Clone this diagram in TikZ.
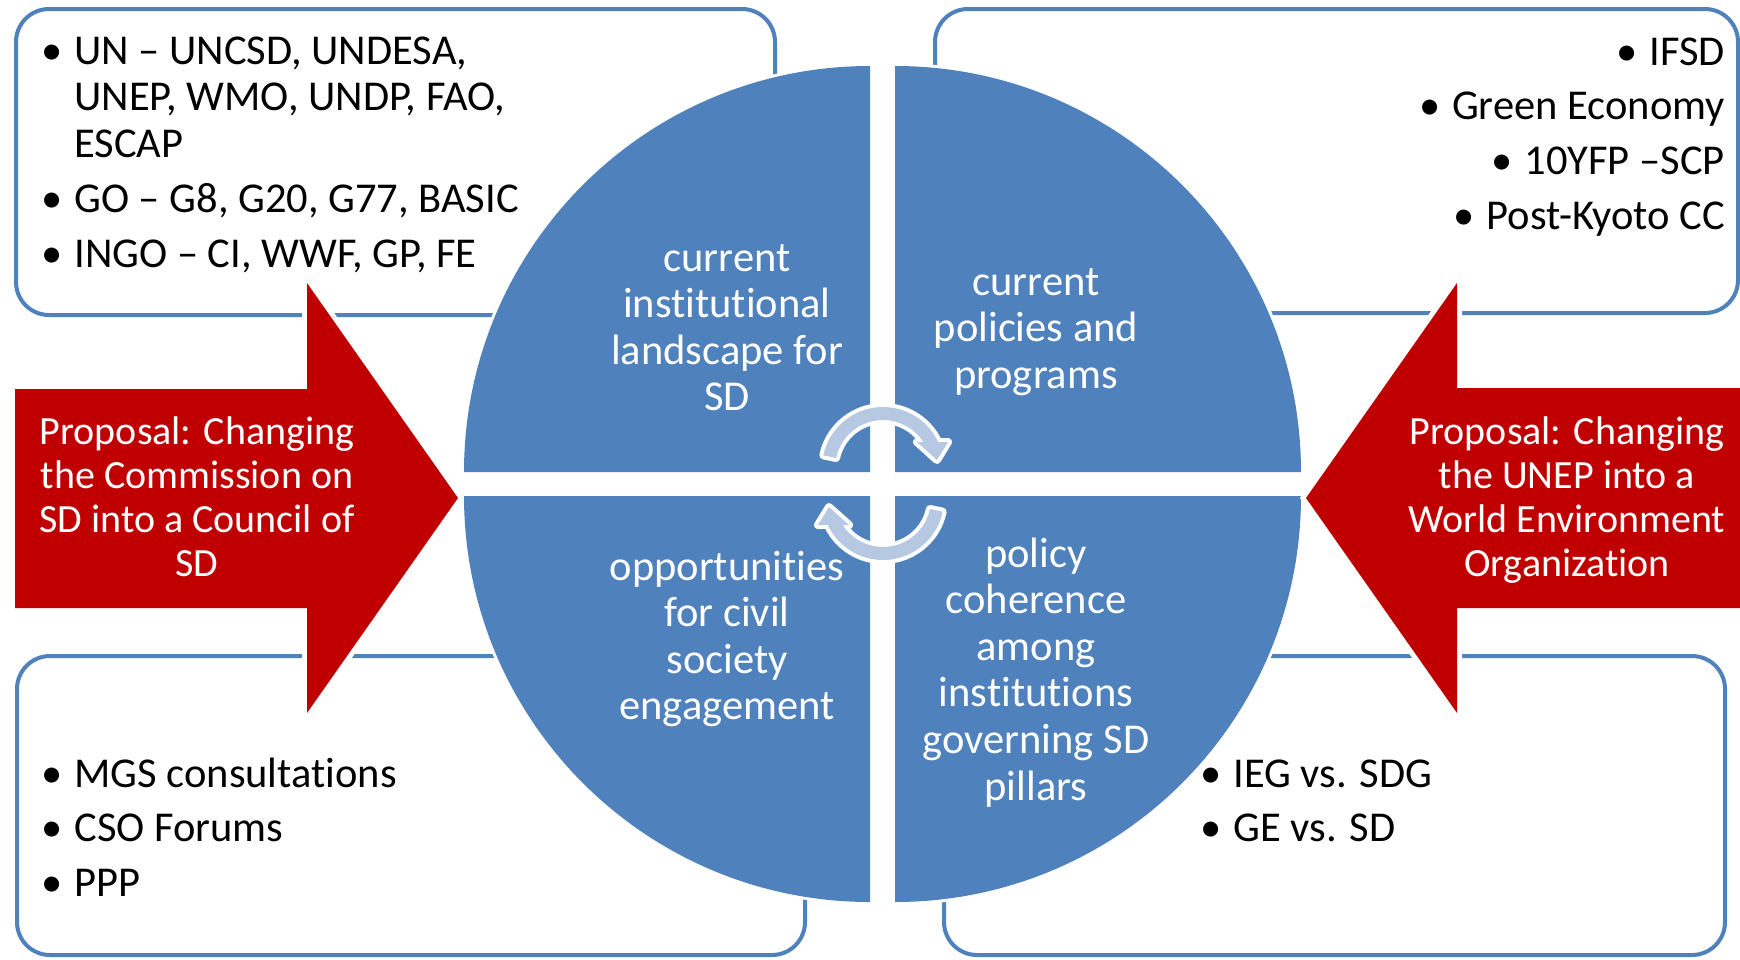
\documentclass[tikz,border=0pt]{standalone}
\usepackage{fontspec}
\setmainfont{Carlito}[Ligatures=NoCommon]
\definecolor{qblue}{RGB}{79,129,189}
\definecolor{pred}{RGB}{192,0,0}
\definecolor{cycfill}{RGB}{183,200,227}
\tikzset{
  listbox/.style={draw=qblue, line width=4pt, rounded corners=33pt, fill=white},
  quarter/.style={fill=qblue, preaction={draw=white, line width=6pt}},
  bigarrow/.style={fill=pred, preaction={draw=white, line width=10pt}},
  cycarrow/.style={fill=cycfill, preaction={draw=white, line width=8pt, line join=round}},
  qtext/.style={text=white, font=\fontsize{42.5}{46.6}\selectfont, anchor=base, inner sep=0pt},
  ptext/.style={text=white, font=\fontsize{40}{44.3}\selectfont, anchor=base, inner sep=0pt},
  ltext/.style={text=black, font=\fontsize{42.5}{46.6}\selectfont, inner sep=0pt}
}
\begin{document}
\begin{tikzpicture}[x=1pt,y=-1pt] % 1 unit = 1 pixel, y downwards
\useasboundingbox (0,0) rectangle (1740,959);
%% boxes in the four corners
\draw[listbox] (16,9) rectangle (775,315);
\draw[listbox] (935,9) rectangle (1738,313);
\draw[listbox] (17,656) rectangle (805,955);
\draw[listbox] (944,656) rectangle (1725,955);
%% the four quarters of the circle
\fill[quarter] (870,472)--(464,472) arc[start angle=180,end angle=270,radius=406]--cycle;
\fill[quarter] (895,472)--(895,66) arc[start angle=270,end angle=360,radius=406]--cycle;
\fill[quarter] (895,496)--(1301,496) arc[start angle=0,end angle=90,radius=406]--cycle;
\fill[quarter] (870,496)--(870,902) arc[start angle=90,end angle=180,radius=406]--cycle;
%% circular arrows in the middle
\begin{scope}[shift={(883,468)}]
\fill[cycarrow] (192:61) arc[start angle=192,end angle=334.8,radius=61]--(65,-26)--(54,-8)--(34,-26)--(327.2:48) arc[start angle=327.2,end angle=192,radius=48]--cycle;
\end{scope}
\begin{scope}[shift={(883,499)}]
\fill[cycarrow] (12:61) arc[start angle=12,end angle=154.8,radius=61]--(-65,26)--(-54,8)--(-34,26)--(147.2:48) arc[start angle=147.2,end angle=12,radius=48]--cycle;
\end{scope}
%% big red arrows
\fill[bigarrow] (15,389)--(307,389)--(307,283)--(458,498)--(307,713)--(307,608)--(15,608)--cycle;
\fill[bigarrow] (1760,388)--(1457,388)--(1457,283)--(1306,498)--(1457,713)--(1457,608)--(1760,608)--cycle;
%% texts in the quarters
\node[qtext] (landscape) at (727,271) {\begin{tabular}[t]{@{}c@{}}current\\institutional\\landscape for\\SD\end{tabular}};
\node[qtext] (policies) at (1036,295) {\begin{tabular}[t]{@{}c@{}}current\\policies and\\programs\end{tabular}};
\node[qtext] (civil) at (727,580) {\begin{tabular}[t]{@{}c@{}}opportunities\\for civil\\society\\engagement\end{tabular}};
\node[qtext] (coherence) at (1036,567) {\begin{tabular}[t]{@{}c@{}}policy\\coherence\\among\\institutions\\governing SD\\pillars\end{tabular}};
%% proposals
\node[ptext] (council) at (197,444) {\begin{tabular}[t]{@{}c@{}}Proposal: Changing\\the Commission on\\SD into a Council of\\SD\end{tabular}};
\node[ptext] (weo) at (1567,444) {\begin{tabular}[t]{@{}c@{}}Proposal: Changing\\the UNEP into a\\World Environment\\Organization\end{tabular}};
%% lists
\node[ltext,anchor=base west] (unlist) at (41,64) {\begin{tabular}[t]{@{}l@{\hspace{12pt}}l@{}}
\textbullet & UN – UNCSD, UNDESA,\\
 & UNEP, WMO, UNDP, FAO,\\
 & ESCAP\\[8.4pt]
\textbullet & GO – G8, G20, G77, BASIC\\[8.4pt]
\textbullet & INGO – CI, WWF, GP, FE
\end{tabular}};
\node[ltext,anchor=base east] (greenlist) at (1725,65) {\begin{tabular}[t]{@{}r@{}}
\textbullet\hspace{12pt}IFSD\\[8.1pt]
\textbullet\hspace{12pt}Green Economy\\[8.1pt]
\textbullet\hspace{12pt}10YFP –SCP\\[8.1pt]
\textbullet\hspace{12pt}Post-Kyoto CC
\end{tabular}};
\node[ltext,anchor=base west] (mgslist) at (41,787) {\begin{tabular}[t]{@{}l@{\hspace{12pt}}l@{}}
\textbullet & MGS consultations\\[8pt]
\textbullet & CSO Forums\\[8pt]
\textbullet & PPP
\end{tabular}};
\node[ltext,anchor=base west] (ieglist) at (1200,787) {\begin{tabular}[t]{@{}l@{\hspace{12pt}}l@{}}
\textbullet & IEG vs. SDG\\[8pt]
\textbullet & GE vs. SD
\end{tabular}};
\end{tikzpicture}
\end{document}
